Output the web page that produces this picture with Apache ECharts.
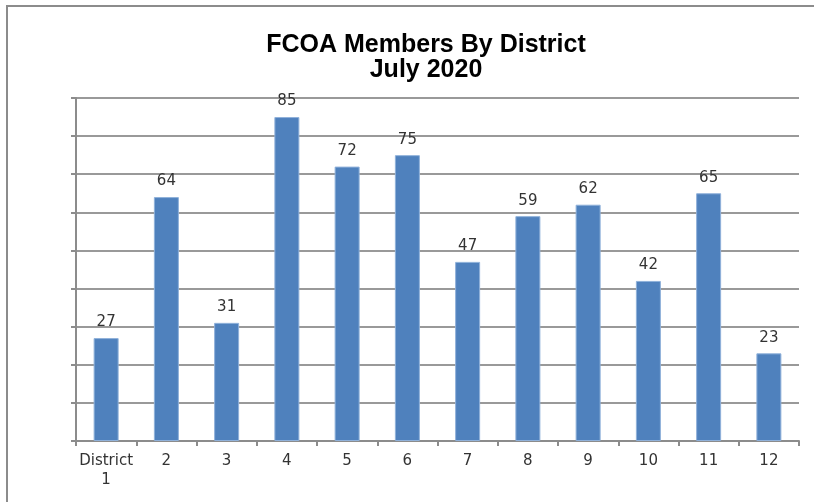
<!DOCTYPE html>
<html>
<head>
<meta charset="utf-8">
<script src="https://cdn.jsdelivr.net/npm/echarts@6/dist/echarts.min.js"></script>
<style>
  html, body { margin: 0; padding: 0; background: #fff; }
  #chart { width: 814px; height: 502px; }
</style>
</head>
<body>
<div id="chart"></div>
<script>
const districts = ['District\n1', '2', '3', '4', '5', '6', '7', '8', '9', '10', '11', '12'];
const members = [27, 64, 31, 85, 72, 75, 47, 59, 62, 42, 65, 23];
const titleLines = ['FCOA Members By District', 'July 2020'];

const chart = echarts.init(document.getElementById('chart'));

chart.setOption({
    animation: false,
    backgroundColor: '#fff',
    title: {
        text: titleLines.join('\n'),
        left: 421,
        top: 28,
        textAlign: 'center',
        textStyle: {
            fontFamily: 'Liberation Sans',
            fontWeight: 'bold',
            fontSize: 25,
            lineHeight: 25,
            color: '#000'
        }
    },
    graphic: [{
        type: 'polyline',
        shape: { points: [[7, 502], [7, 6], [814, 6]] },
        style: { stroke: '#8c8c8c', lineWidth: 2, fill: null }
    }],
    grid: { left: 76, right: 15, top: 98, bottom: 61 },
    xAxis: {
        type: 'category',
        data: districts,
        axisLine: { lineStyle: { color: '#8c8c8c', width: 2 } },
        axisTick: { show: true, interval: 0, length: 5, lineStyle: { color: '#8c8c8c', width: 2 } },
        axisLabel: {
            interval: 0,
            margin: 11,
            fontFamily: 'DejaVu Sans',
            fontSize: 15,
            lineHeight: 19,
            color: '#333'
        }
    },
    yAxis: {
        type: 'value',
        min: 0,
        max: 90,
        interval: 10,
        axisLine: { show: true, lineStyle: { color: '#8c8c8c', width: 2 } },
        axisTick: { show: true, length: 5, lineStyle: { color: '#8c8c8c', width: 2 } },
        axisLabel: { show: false },
        splitLine: { show: true, lineStyle: { color: '#999', width: 2 } }
    },
    series: [{
        type: 'bar',
        data: members,
        barWidth: 25,
        itemStyle: { color: '#4f81bd', borderColor: '#8fb1da', borderWidth: 1 },
        label: {
            show: true,
            position: 'top',
            distance: 8,
            fontFamily: 'DejaVu Sans',
            fontSize: 15,
            color: '#333'
        }
    }]
});
</script>
</body>
</html>
